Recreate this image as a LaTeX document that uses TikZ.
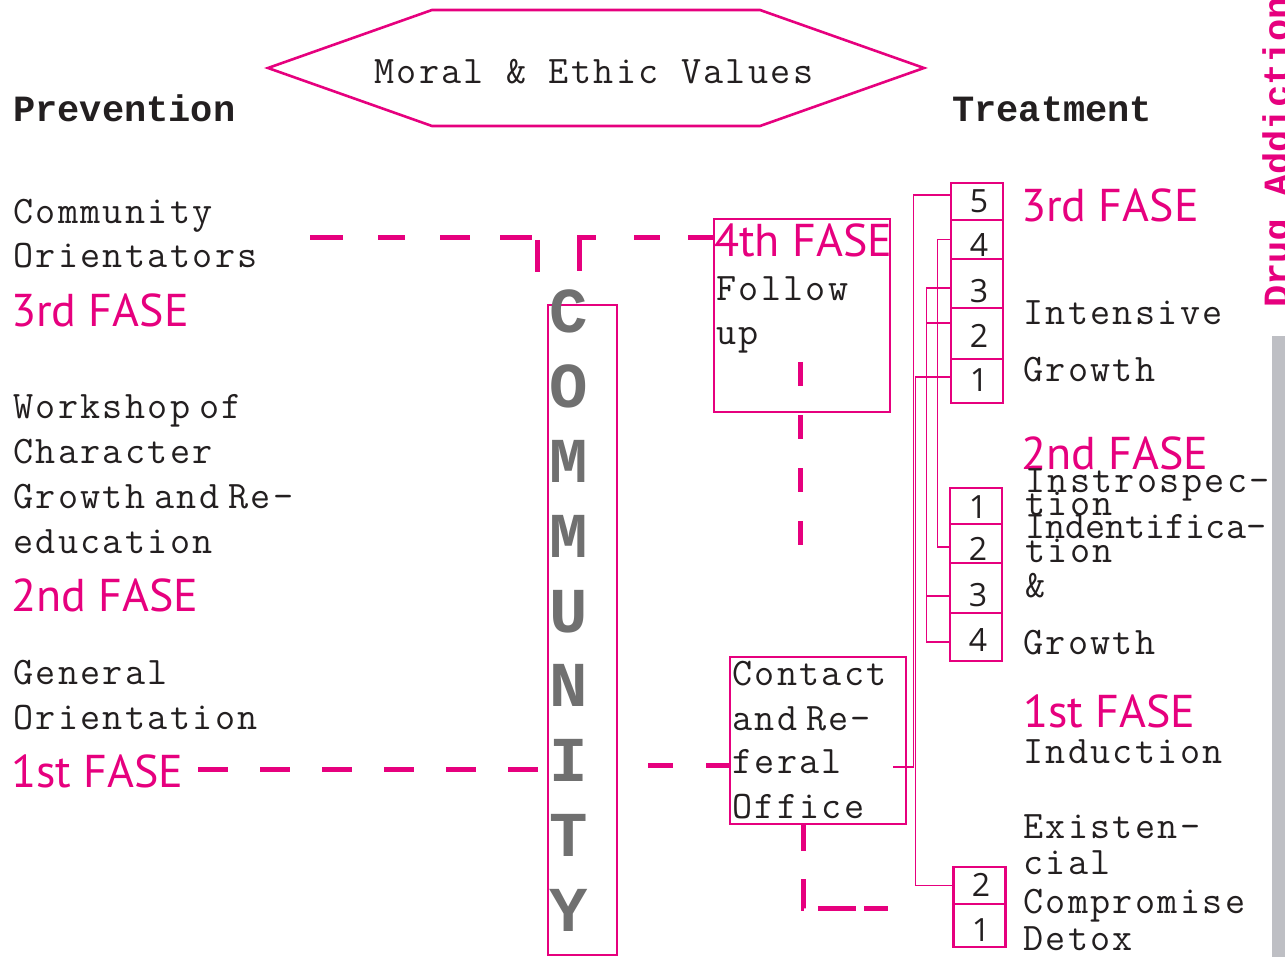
\documentclass[tikz,border=0pt]{standalone}
\usepackage{fontspec}
\newfontfamily\typewriter[LetterSpace=6]{Latin Modern Mono}
\newfontfamily\tighttype{Latin Modern Mono}
\newfontfamily\heavytype{Liberation Mono}
\newfontfamily\fasefont{PT Sans}
\newfontfamily\digitfont{Open Sans}
\definecolor{mag}{RGB}{230,0,126}
\definecolor{ink}{RGB}{35,31,32}
\definecolor{letgray}{RGB}{112,112,112}
\definecolor{bargray}{RGB}{190,191,196}
\newcommand\nsp{\hspace{9pt}}
\begin{document}
\begin{tikzpicture}[x=1pt,y=-1pt,
  txt/.style={anchor=base west, inner sep=0pt, text=ink, font=\fontsize{39}{39}\selectfont\typewriter},
  headtxt/.style={txt, font=\fontsize{37}{37}\selectfont\heavytype\bfseries},
  fase/.style={anchor=base west, inner sep=0pt, text=mag, font=\fontsize{46}{46}\selectfont\fasefont},
  boxline/.style={draw=mag, line width=2.6pt, inner sep=0pt},
  numbox/.style={boxline, minimum width=52pt},
  digit/.style={inner sep=0pt, text=ink, font=\fontsize{32}{32}\selectfont\digitfont},
  wire/.style={draw=mag, line width=1.3pt},
  bigdash/.style={draw=mag, line width=5pt, dash pattern=on 30pt off 32pt},
  letter/.style={anchor=base, inner sep=0pt, text=letgray, font=\fontsize{64}{64}\selectfont\heavytype\bfseries}
]
\useasboundingbox (0,0) rectangle (1285,957);
\clip (0,0) rectangle (1285,957);

% ---- title hexagon ----
\draw[mag, line width=2.6pt] (268,68) -- (432,10) -- (760,10) -- (924,68) -- (760,126) -- (432,126) -- cycle;
\node[txt] (values) at (374,84) {Moral \& Ethic Values};

% ---- column headings ----
\node[headtxt] (prevention) at (13,122) {Prevention};
\node[headtxt] (treatment) at (952,122) {Treatment};

% ---- prevention column ----
\node[txt] (p1) at (13,224) {Community};
\node[txt] (p2) at (13,268) {Orientators};
\node[fase] (pf3) at (11,327) {3rd FASE};
\node[txt] (p3) at (13,418) {Workshop\nsp of};
\node[txt] (p4) at (13,463) {Character};
\node[txt] (p5) at (13,508) {Growth\nsp and\nsp Re-};
\node[txt] (p6) at (13,553) {education};
\node[fase] (pf2) at (11,611) {2nd FASE};
\node[txt] (p7) at (13,684) {General};
\node[txt] (p8) at (13,729) {Orientation};
\node[fase] (pf1) at (11,787) {1st FASE};

% ---- community column ----
\node[boxline, minimum width=69pt, minimum height=650pt] (community) at (582.5,630) {};
\foreach \ch [count=\i from 0] in {C,O,M,M,U,N,I,T,Y}
  \node[letter] (let\i) at (569,333+74.75*\i) {\ch};

% ---- follow up box ----
\node[boxline, minimum width=176pt, minimum height=193pt] (follow) at (802,315.5) {};
\node[fase] (f4) at (714,257) {4th FASE};
\node[txt] (fu1) at (716,301) {Follow};
\node[txt] (fu2) at (716,345) {up};

% ---- contact box ----
\node[boxline, minimum width=176pt, minimum height=167pt] (contact) at (818,740.5) {};
\node[txt] (c1) at (732,685) {Contact};
\node[txt] (c2) at (732,730) {and\nsp Re-};
\node[txt] (c3) at (732,773) {feral};
\node[txt] (c4) at (732,818) {Office};

% ---- treatment: third phase steps ----
\node[numbox, minimum height=37pt] (t5) at (977,201.5) {};
\node[numbox, minimum height=39pt] (t4) at (977,239.5) {};
\node[numbox, minimum height=49pt] (t3) at (977,283.5) {};
\node[numbox, minimum height=51pt] (t2) at (977,333.5) {};
\node[numbox, minimum height=44pt] (t1) at (977,381) {};
\node[digit] at (979,201) {5};
\node[digit] at (979,245) {4};
\node[digit] at (979,291) {3};
\node[digit] at (979,336) {2};
\node[digit] at (979,380) {1};

% ---- treatment: second phase steps ----
\node[numbox, minimum height=36pt] (s1) at (976,506) {};
\node[numbox, minimum height=39pt] (s2) at (976,543.5) {};
\node[numbox, minimum height=50pt] (s3) at (976,588) {};
\node[numbox, minimum height=48pt] (s4) at (976,637) {};
\node[digit] at (978,507) {1};
\node[digit] at (978,549) {2};
\node[digit] at (978,595) {3};
\node[digit] at (978,640) {4};

% ---- treatment: first phase steps ----
\node[numbox, minimum height=37pt] (b2) at (979.5,885.5) {};
\node[numbox, minimum height=43pt] (b1) at (979.5,925.5) {};
\node[digit] at (981,885) {2};
\node[digit] at (981,930) {1};

% ---- treatment texts ----
\node[fase] (tf3) at (1021,222) {3rd FASE};
\node[txt] (r1) at (1023,325) {Intensive};
\node[txt] (r2) at (1023,382) {Growth};
\node[fase] (tf2) at (1021,469) {2nd FASE};
\node[txt] (r3) at (1025,492) {Instrospec-};
\node[txt] (r4) at (1025,515) {tion};
\node[txt, font=\fontsize{39}{39}\selectfont\tighttype] (r5) at (1025,538) {Indentifica-};
\node[txt] (r6) at (1025,562) {tion};
\node[txt] (r7) at (1025,597) {\&};
\node[txt] (r8) at (1023,654) {Growth};
\node[fase] (tf1) at (1023,727) {1st FASE};
\node[txt] (r9) at (1023,763) {Induction};
\node[txt] (r10) at (1023,838) {Existen-};
\node[txt] (r11) at (1023,874) {cial};
\node[txt] (r12) at (1023,913) {Compromise};
\node[txt] (r13) at (1023,950) {Detox};

% ---- side banner ----
\fill[bargray] (1272,336) rectangle (1285,957);
\node[anchor=base west, inner sep=0pt, rotate=90, text=mag,
      font=\fontsize{37}{37}\selectfont\heavytype\bfseries] (banner) at (1289,308) {Drug Addiction};

% ---- thin step connectors ----
\draw[wire] ([yshift=6.5pt]t5.west) -| ([xshift=6pt,yshift=-26.5pt]contact.east) -- ([xshift=-14pt,yshift=-26.5pt]contact.east);
\draw[wire] ([yshift=4pt]t1.west) -| ([xshift=-37pt]b2.west) -- (b2.west);
\draw[wire] ([yshift=-4.5pt]t3.west) -| ([xshift=-22pt,yshift=-5pt]s4.west) -- ([yshift=-5pt]s4.west);
\draw[wire] ([yshift=10.5pt]t2.west) -- ([xshift=-23pt,yshift=10.5pt]t2.west);
\draw[wire] ([xshift=-22pt,yshift=-8pt]s3.west) -- ([yshift=-8pt]s3.west);
\draw[wire] (t4.west) -| ([xshift=-11pt,yshift=-3.5pt]s2.west) -- ([yshift=-3.5pt]s2.west);

% ---- thick dashed links ----
\coordinate (orientEnd) at (310,238);
\coordinate (firstEnd) at (198,769);
\coordinate (refIn) at ([yshift=-24.5pt]contact.west);
\coordinate (fuTop) at (800,362);
\coordinate (fuBot) at (800,552);
\coordinate (detoxEnd) at (888,908);

\draw[bigdash, dash pattern=on 33pt off 35pt on 27pt off 35pt on 30pt off 30pt on 32pt off 7pt on 32pt off 40pt]
  (orientEnd) -| ([xshift=-45.5pt]community.north);
\draw[bigdash, dash pattern=on 0pt off 33pt on 50pt off 38pt on 26pt off 28pt on 30pt]
  ([xshift=-3.5pt]community.north) |- (follow.west |- orientEnd);
\draw[bigdash, dash pattern=on 24pt off 29pt] (fuTop) -- (fuBot);
\draw[bigdash] (firstEnd) -- (community.west |- firstEnd);
\draw[bigdash, dash pattern=on 0pt off 30pt on 25pt off 33pt on 25pt] (community.east |- refIn) -- (refIn);
\draw[bigdash, dash pattern=on 26pt off 28pt on 30pt off 14pt on 38pt off 8pt on 30pt]
  ([xshift=-15pt]contact.south) |- (detoxEnd);

\end{tikzpicture}
\end{document}
